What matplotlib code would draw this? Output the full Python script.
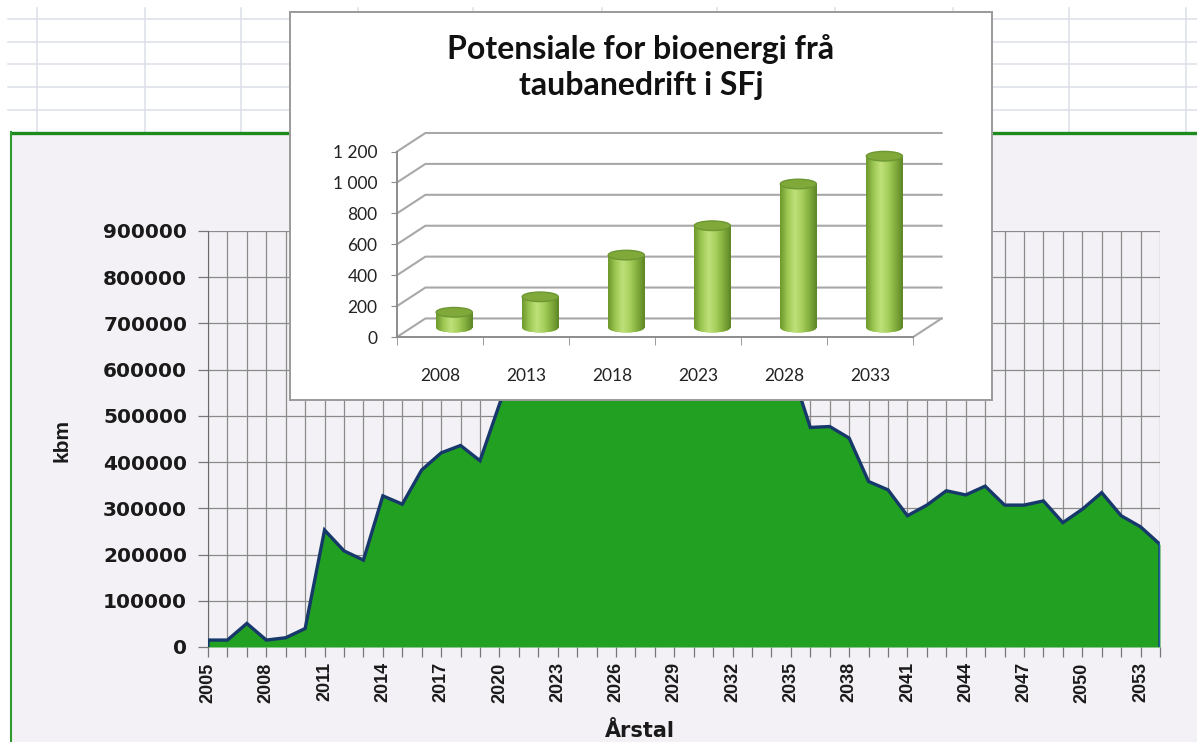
import numpy as np
import matplotlib
matplotlib.use("Agg")
import matplotlib.pyplot as plt
from matplotlib.patches import Rectangle, Ellipse
from matplotlib.colors import LinearSegmentedColormap
from matplotlib.ticker import FuncFormatter, MultipleLocator, FixedLocator

# ---------------- data ----------------
years = list(range(2005, 2055))
kbm = [15000, 15000, 51000, 15000, 20000, 40000, 253000, 208000, 188000, 327000,
       309000, 383000, 420000, 436000, 403000, 525000, 640000, 700000, 745000, 790000,
       820000, 850000, 830000, 860000, 845000, 810000, 780000, 745000, 700000, 665000,
       605000, 475000, 477000, 452000, 358000, 340000, 284000, 307000, 338000, 329000,
       348000, 307000, 307000, 316000, 269000, 298000, 334000, 284000, 260000, 222000]
xtick_years = list(range(2005, 2054, 3))
ytick_vals = [0, 100000, 200000, 300000, 400000, 500000, 600000, 700000, 800000, 900000]

inset_cats = ["2008", "2013", "2018", "2023", "2028", "2033"]
inset_vals = [100, 200, 470, 660, 930, 1110]
inset_yticks = [0, 200, 400, 600, 800, 1000, 1200]
inset_title = "Potensiale for bioenergi frå\ntaubanedrift i SFj"

# ---------------- figure ----------------
W, H = 1197, 742
fig = plt.figure(figsize=(W / 100, H / 100), dpi=100, facecolor="white")

def ax_rect(x0, y0, x1, y1):
    return [x0 / W, 1 - y1 / H, (x1 - x0) / W, (y1 - y0) / H]

# background (spreadsheet + chart area)
bg = fig.add_axes([0, 0, 1, 1], zorder=-10)
bg.set_xlim(0, W)
bg.set_ylim(H, 0)
bg.axis("off")
grid_c = "#dcdfe9"
for yy in [19, 42, 64, 87, 110]:
    bg.plot([8, W], [yy, yy], color=grid_c, lw=1.1)
for xx in [37, 145, 241, 358, 473, 602, 717, 835, 953, 1069, 1186]:
    bg.plot([xx, xx], [8, 132], color=grid_c, lw=1.1)
bg.add_patch(Rectangle((10, 132), W - 10, H - 132, facecolor="#f3f1f5", edgecolor="none"))
bg.plot([10, W], [132.5, 132.5], color="#1d8a1d", lw=2.4, solid_capstyle="butt")
bg.plot([10.5, 10.5], [132, H], color="#2f9a2f", lw=1.5)

# ---------------- main chart ----------------
ax = fig.add_axes(ax_rect(208, 231, 1160, 647), zorder=1)
ax.set_facecolor("#f3f1f5")
ax.set_xlim(2005, 2054)
ax.set_ylim(0, 900000)
green = "#21a021"
navy = "#17386b"
ax.fill_between(years, kbm, 0, color=green, lw=0, zorder=3)
ax.plot([years[0]] + years + [years[-1]], [0] + kbm + [0], color=navy, lw=2.4,
        zorder=4, solid_joinstyle="miter")
ax.plot([years[-1], years[-1]], [0, kbm[-1]], color="#1f5fae", lw=2.4, zorder=5)

ax.xaxis.set_major_locator(FixedLocator(xtick_years))
ax.xaxis.set_minor_locator(MultipleLocator(1))
ax.yaxis.set_major_locator(FixedLocator(ytick_vals))
ax.grid(True, which="both", axis="x", color="#8a8a8a", lw=0.9, zorder=1)
ax.grid(True, which="major", axis="y", color="#8a8a8a", lw=0.9, zorder=1)
ax.set_axisbelow(True)
for s in ["top", "right", "bottom"]:
    ax.spines[s].set_visible(False)
ax.spines["left"].set_color("#6a6a6a")
ax.tick_params(axis="x", which="both", direction="out", length=7, color="#777777", width=0.9)
ax.tick_params(axis="y", which="both", direction="out", length=7, color="#777777", width=0.9)
ax.set_xticks(xtick_years)
ax.set_xticklabels([str(y) for y in xtick_years], rotation=90, fontsize=13,
                   fontweight="bold", family="Liberation Sans", color="#1a1a1a")
ax.set_yticks(ytick_vals)
ax.set_yticklabels([str(v) for v in ytick_vals], fontsize=14.5, fontweight="bold",
                   family="DejaVu Sans", color="#1a1a1a")
ax.tick_params(axis="y", pad=8)
ax.tick_params(axis="x", pad=4)
fig.text(62 / W, 1 - 440 / H, "kbm", rotation=90, ha="center", va="center",
         fontsize=15, fontweight="bold", family="Liberation Sans", color="#1a1a1a")
fig.text(640 / W, 1 - 731 / H, "Årstal", ha="center", va="center",
         fontsize=15, fontweight="bold", family="DejaVu Sans", color="#1a1a1a")

# ---------------- inset box ----------------
box = fig.add_axes(ax_rect(290, 12, 992, 400), zorder=5)
box.set_facecolor("white")
box.set_xticks([])
box.set_yticks([])
for s in box.spines.values():
    s.set_color("#9a9a9a")
    s.set_linewidth(1.4)

fig.text(641 / W, 1 - 67 / H, inset_title, ha="center", va="center", fontsize=23,
         fontweight="bold", family="Lato", color="#111111", linespacing=1.3, zorder=7)

D = 120      # depth offset (value units)
DX = 0.33    # depth offset (category units)
ax2 = fig.add_axes(ax_rect(397, 133, 941.6, 337), zorder=6)
ax2.set_facecolor("none")
ax2.set_xlim(-0.5, 5.5 + DX)
ax2.set_ylim(0, 1200 + D)
gc = "#a8a8a8"
for v in inset_yticks:
    ax2.plot([-0.5, -0.5 + DX, 5.5 + DX], [v, v + D, v + D], color=gc, lw=1.5,
             zorder=1, clip_on=False)
ax2.plot([5.5, 5.5 + DX], [0, D], color=gc, lw=1.5, zorder=1, clip_on=False)

cmap = LinearSegmentedColormap.from_list(
    "cyl", ["#6c972b", "#9cc752", "#bfe07a", "#a6cf5c", "#82ad3c", "#5c8524"])
grad = np.linspace(0, 1, 256).reshape(1, -1)
bw = 0.42
eh = 62
xs = np.arange(len(inset_cats)) + DX / 2
bars = ax2.bar(xs, inset_vals, width=bw, bottom=D / 2, color="#9cc752", zorder=3)
for x, v, rect in zip(xs, inset_vals, bars):
    bot = Ellipse((x, D / 2), bw, eh, facecolor="#9cc752", edgecolor="none", zorder=3)
    ax2.add_patch(bot)
    for clipper in (rect, bot):
        im = ax2.imshow(grad, cmap=cmap, aspect="auto", zorder=3.5,
                        extent=[x - bw / 2, x + bw / 2, D / 2 - eh / 2, D / 2 + v],
                        interpolation="bilinear")
        im.set_clip_path(clipper)
    top = Ellipse((x, D / 2 + v), bw, eh, facecolor="#80a93a", edgecolor="#6c9732",
                  lw=1.0, zorder=4)
    ax2.add_patch(top)
ax2.set_xlim(-0.5, 5.5 + DX)
ax2.set_ylim(0, 1200 + D)

for s in ["top", "right"]:
    ax2.spines[s].set_visible(False)
ax2.spines["left"].set_bounds(0, 1200)
ax2.spines["bottom"].set_bounds(-0.5, 5.5)
for s in ["left", "bottom"]:
    ax2.spines[s].set_color("#8c8c8c")
    ax2.spines[s].set_linewidth(1.4)
ax2.set_yticks(inset_yticks)
ax2.yaxis.set_major_formatter(FuncFormatter(lambda v, p: f"{int(v):,}".replace(",", " ")))
ax2.tick_params(axis="y", direction="out", length=4, color="#8c8c8c", pad=10,
                labelsize=12.5)
ax2.set_xticks(range(len(inset_cats)))
ax2.set_xticklabels(inset_cats)
ax2.set_xticks(np.arange(-0.5, 6.0, 1.0), minor=True)
ax2.tick_params(axis="x", which="major", length=0, pad=22, labelsize=12.5)
ax2.tick_params(axis="x", which="minor", direction="out", length=6, color="#8c8c8c")
for lab in ax2.get_xticklabels() + ax2.get_yticklabels():
    lab.set_family("Lato")
    lab.set_color("#222222")

fig.savefig("out.png", dpi=100, facecolor="white")
